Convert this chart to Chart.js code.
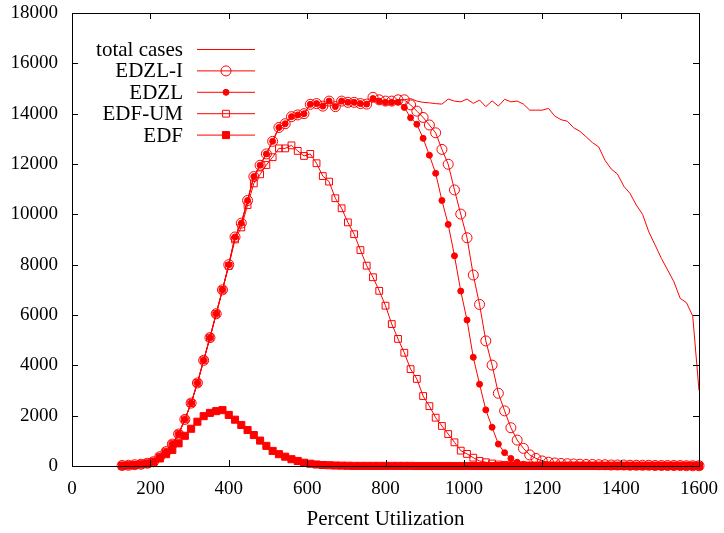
<!DOCTYPE html>
<html>
<head>
<meta charset="utf-8">
<script src="https://cdn.jsdelivr.net/npm/chart.js@4/dist/chart.umd.min.js"></script>
<style>
html, body { margin: 0; padding: 0; background: #fff; }
#wrap { width: 724px; height: 533px; }
</style>
</head>
<body>
<div id="wrap"><canvas id="utilChart" width="724" height="533"></canvas></div>
<script>
// x values (percent utilization)
const utilization = [
    128, 144, 160, 176, 192, 208, 224, 240, 256, 272,
    288, 304, 320, 336, 352, 368, 384, 400, 416, 432,
    448, 464, 480, 496, 512, 528, 544, 560, 576, 592,
    608, 624, 640, 656, 672, 688, 704, 720, 736, 752,
    768, 784, 800, 816, 832, 848, 864, 880, 896, 912,
    928, 944, 960, 976, 992, 1008, 1024, 1040, 1056, 1072,
    1088, 1104, 1120, 1136, 1152, 1168, 1184, 1200, 1216, 1232,
    1248, 1264, 1280, 1296, 1312, 1328, 1344, 1360, 1376, 1392,
    1408, 1424, 1440, 1456, 1472, 1488, 1504, 1520, 1536, 1552,
    1568, 1584, 1600
];

const totalCases = [
    20, 30, 50, 70, 110, 170, 370, 570, 870, 1270,
    1850, 2500, 3300, 4200, 5100, 6050, 7000, 8000, 9100, 9650,
    10550, 11500, 11950, 12400, 12900, 13450, 13600, 13880, 13950, 14000,
    14370, 14400, 14300, 14500, 14280, 14500, 14450, 14450, 14400, 14380,
    14650, 14550, 14500, 14500, 14550, 14550, 14600, 14500, 14450, 14430,
    14400, 14380, 14580, 14500, 14470, 14580, 14410, 14540, 14280, 14510,
    14300, 14570, 14470, 14500, 14380, 14140, 14140, 14140, 14210, 13900,
    13760, 13700, 13440, 13300, 13080, 12850, 12680, 12150, 11800, 11600,
    11120, 10830, 10370, 10000, 9300, 8780, 8250, 7790, 7320, 6660,
    6490, 5960, 3000
];

const edzlI = [
    20, 30, 50, 70, 110, 170, 370, 570, 870, 1270,
    1850, 2500, 3300, 4200, 5100, 6050, 7000, 8000, 9100, 9650,
    10550, 11500, 11950, 12400, 12900, 13450, 13600, 13880, 13950, 14000,
    14370, 14400, 14300, 14500, 14280, 14500, 14450, 14450, 14400, 14380,
    14650, 14550, 14500, 14500, 14550, 14550, 14350, 14100, 13850, 13550,
    13240, 12580, 11990, 10970, 10010, 9070, 7590, 6420, 4970, 4010,
    2890, 2190, 1520, 1030, 700, 440, 300, 200, 150, 120,
    100, 90, 80, 70, 60, 60, 50, 50, 40, 40,
    40, 30, 30, 30, 30, 20, 20, 20, 20, 20,
    10, 10, 10
];

const edzl = [
    20, 30, 50, 70, 110, 170, 370, 570, 870, 1270,
    1850, 2500, 3300, 4200, 5100, 6050, 7000, 8000, 9100, 9650,
    10550, 11500, 11950, 12400, 12900, 13450, 13600, 13880, 13950, 14000,
    14370, 14400, 14300, 14500, 14280, 14500, 14450, 14450, 14400, 14380,
    14600, 14500, 14450, 14450, 14450, 14250, 13840, 13580, 13020, 12350,
    11630, 10550, 9600, 8350, 6950, 5800, 4320, 3250, 2230, 1540,
    870, 530, 300, 150, 70, 40, 20, 10, 10, 10,
    10, 10, 10, 10, 10, 10, 10, 10, 10, 10,
    10, 10, 10, 10, 10, 10, 10, 10, 10, 10,
    10, 10, 10
];

const edfUm = [
    20, 30, 50, 70, 110, 170, 370, 570, 870, 1270,
    1850, 2500, 3300, 4200, 5100, 6050, 7000, 7950, 9000, 9480,
    10370, 11230, 11590, 11960, 12270, 12620, 12620, 12740, 12520, 12320,
    12400, 12030, 11520, 11300, 10640, 10240, 9680, 9210, 8580, 7960,
    7500, 6960, 6370, 5640, 5050, 4500, 3850, 3460, 2780, 2380,
    1920, 1590, 1270, 940, 610, 480, 330, 200, 150, 100,
    60, 40, 30, 20, 20, 20, 20, 20, 20, 20,
    20, 20, 20, 20, 20, 20, 20, 20, 20, 20,
    20, 20, 20, 20, 20, 20, 20, 20, 20, 20,
    20, 20, 20
];

const edf = [
    10, 20, 40, 60, 90, 170, 300, 470, 640, 900,
    1200, 1480, 1760, 1980, 2110, 2180, 2220, 2030, 1840, 1630,
    1430, 1230, 1010, 800, 600, 470, 370, 270, 200, 130,
    90, 60, 40, 30, 20, 15, 10, 5, 5, 5,
    5, 5, 5, 5, 5, 5, 5, 0, 0, 0,
    0, 0, 0, 0, 0, 0, 0, 0, 0, 0,
    0, 0, 0, 0, 0, 0, 0, 0, 0, 0,
    0, 0, 0, 0, 0, 0, 0, 0, 0, 0,
    0, 0, 0, 0, 0, 0, 0, 0, 0, 0,
    0, 0, 0
];

const xTicks = [0, 200, 400, 600, 800, 1000, 1200, 1400, 1600];
const yTicks = [0, 2000, 4000, 6000, 8000, 10000, 12000, 14000, 16000, 18000];

const RED = '#ff0000';
const SERIF = '"Liberation Serif", "DejaVu Serif", serif';

function toPoints(values) {
    return values.map((v, i) => ({ x: utilization[i], y: v }));
}

function series(label, values, style, radius, filled, order) {
    return {
        label: label,
        data: toPoints(values),
        borderColor: RED,
        borderWidth: 1,
        pointStyle: style,
        pointRadius: radius,
        pointBorderWidth: 1,
        pointBorderColor: RED,
        pointBackgroundColor: filled ? RED : 'rgba(0,0,0,0)',
        pointHoverRadius: radius,
        tension: 0,
        fill: false,
        clip: false,
        order: order
    };
}

// gnuplot-style key: text right aligned, sample line with marker after it
const keyPlugin = {
    id: 'gnuKey',
    afterDraw(chart) {
        const ctx = chart.ctx;
        ctx.save();
        ctx.font = '21px ' + SERIF;
        ctx.textAlign = 'right';
        ctx.textBaseline = 'middle';
        chart.data.datasets.forEach((ds, i) => {
            const y = 49.5 + i * 21.4;
            ctx.fillStyle = '#000';
            ctx.fillText(ds.label, 183, y + 1);
            ctx.strokeStyle = ds.borderColor;
            ctx.lineWidth = 1;
            ctx.beginPath();
            ctx.moveTo(197, y);
            ctx.lineTo(255, y);
            ctx.stroke();
            if (ds.pointRadius > 0) {
                const r = ds.pointRadius;
                ctx.beginPath();
                if (ds.pointStyle === 'circle') {
                    ctx.arc(226, y, r, 0, Math.PI * 2);
                } else {
                    const s = Math.SQRT1_2 * r;
                    ctx.rect(226 - s, y - s, 2 * s, 2 * s);
                }
                ctx.fillStyle = ds.pointBackgroundColor;
                ctx.fill();
                ctx.stroke();
            }
        });
        ctx.restore();
    }
};

// border box and inward, mirrored ticks
const framePlugin = {
    id: 'frame',
    afterDraw(chart) {
        const ctx = chart.ctx;
        const a = chart.chartArea;
        const xs = chart.scales.x;
        const ys = chart.scales.y;
        const len = 6;
        ctx.save();
        ctx.strokeStyle = '#000';
        ctx.lineWidth = 1;
        ctx.beginPath();
        xTicks.forEach(v => {
            const px = Math.round(xs.getPixelForValue(v)) + 0.5;
            ctx.moveTo(px, a.bottom); ctx.lineTo(px, a.bottom - len);
            ctx.moveTo(px, a.top); ctx.lineTo(px, a.top + len);
        });
        yTicks.forEach(v => {
            const py = Math.round(ys.getPixelForValue(v)) + 0.5;
            ctx.moveTo(a.left, py); ctx.lineTo(a.left + len, py);
            ctx.moveTo(a.right, py); ctx.lineTo(a.right - len, py);
        });
        ctx.stroke();
        ctx.strokeRect(Math.round(a.left) + 0.5, Math.round(a.top) + 0.5,
            Math.round(a.right - a.left), Math.round(a.bottom - a.top));
        ctx.restore();
    }
};

const tickFont = { family: SERIF, size: 19 };
const plainNumber = v => String(v);

new Chart(document.getElementById('utilChart'), {
    type: 'line',
    data: {
        datasets: [
            series('total cases', totalCases, 'circle', 0, false, 5),
            series('EDZL-I', edzlI, 'circle', 5, false, 4),
            series('EDZL', edzl, 'circle', 3, true, 3),
            series('EDF-UM', edfUm, 'rect', 4.8, false, 2),
            series('EDF', edf, 'rect', 5, true, 1)
        ]
    },
    options: {
        responsive: false,
        devicePixelRatio: 1,
        animation: false,
        layout: { padding: { top: 13, right: 25, left: 0, bottom: 0 } },
        plugins: {
            legend: { display: false },
            tooltip: { enabled: false }
        },
        scales: {
            x: {
                type: 'linear',
                min: 0,
                max: 1600,
                afterBuildTicks: s => { s.ticks = xTicks.map(v => ({ value: v })); },
                ticks: { font: tickFont, color: '#000', padding: 12, maxRotation: 0, callback: plainNumber },
                grid: { display: false, drawTicks: false },
                border: { display: false },
                title: {
                    display: true,
                    text: 'Percent Utilization',
                    font: { family: SERIF, size: 21 },
                    color: '#000',
                    padding: { top: 0, bottom: 1 }
                },
                afterFit: s => {
                    s.height = 67;
                    s.paddingLeft = 0;
                    s.paddingRight = 0;
                }
            },
            y: {
                min: 0,
                max: 18000,
                afterBuildTicks: s => { s.ticks = yTicks.map(v => ({ value: v })); },
                ticks: { font: tickFont, color: '#000', padding: 14, callback: plainNumber },
                grid: { display: false, drawTicks: false },
                border: { display: false },
                afterFit: s => {
                    s.width = 72;
                    s.paddingTop = 0;
                    s.paddingBottom = 0;
                }
            }
        }
    },
    plugins: [keyPlugin, framePlugin]
});
</script>
</body>
</html>
